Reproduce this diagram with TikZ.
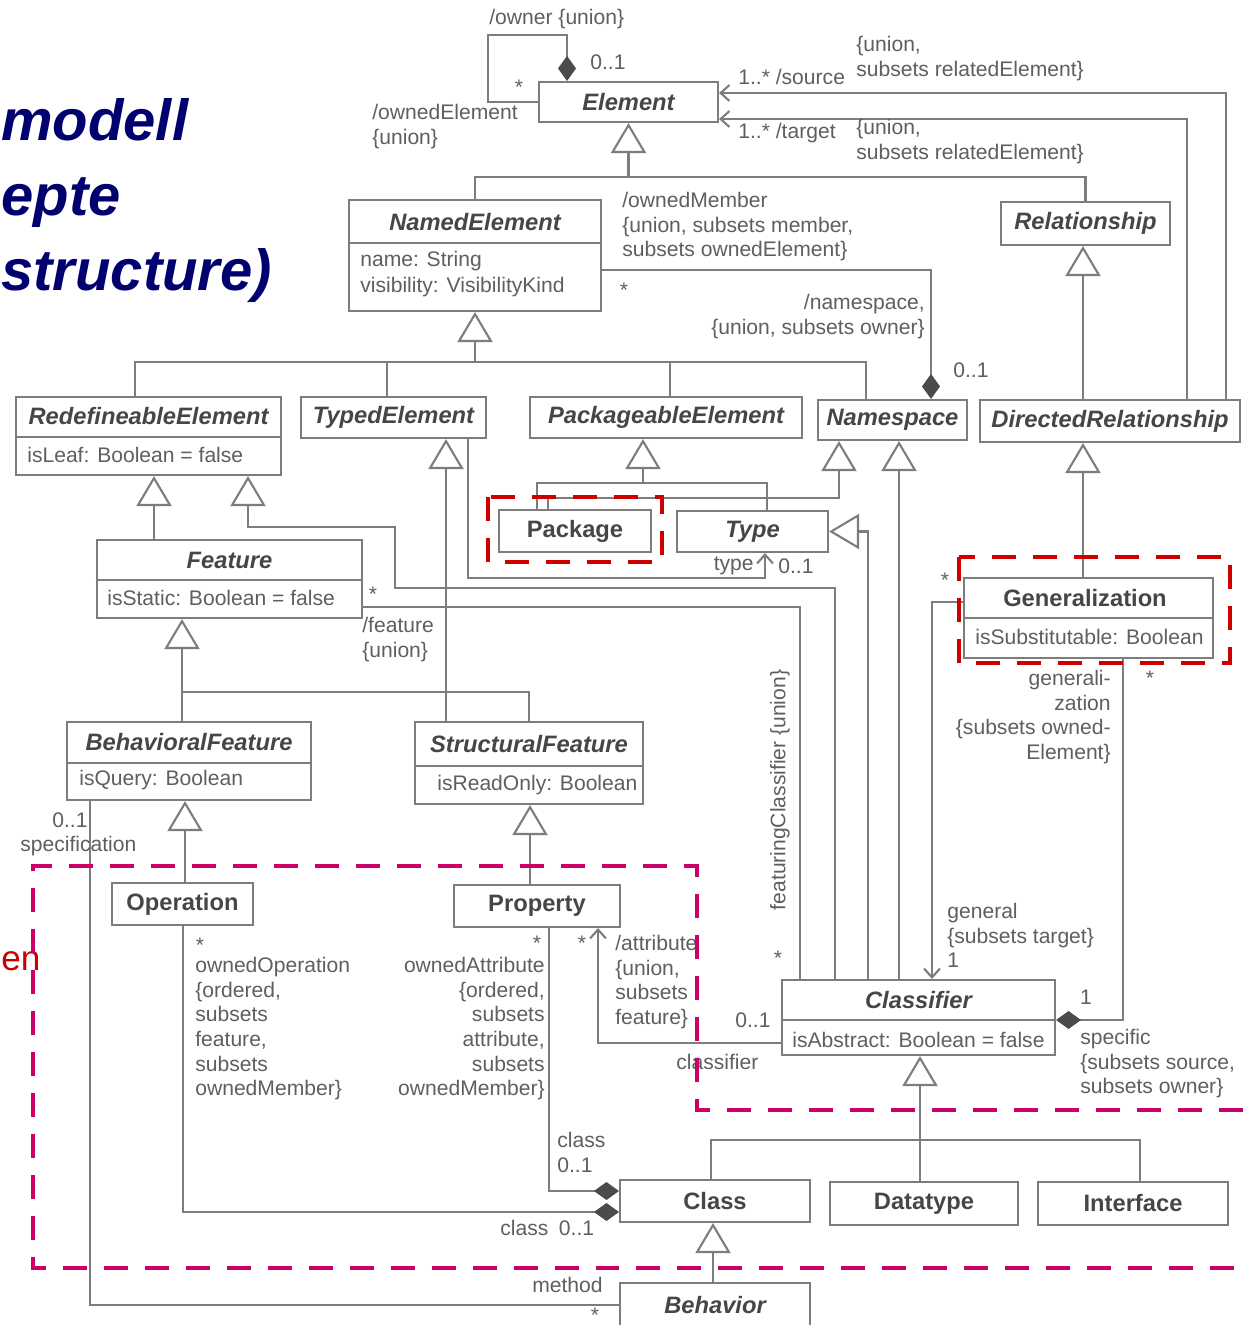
\documentclass[tikz,border=0pt]{standalone}
\usepackage{fontspec}
\setmainfont{Liberation Sans}
\definecolor{umlline}{RGB}{125,125,125}
\definecolor{umltext}{RGB}{95,95,95}
\definecolor{umlname}{RGB}{70,70,70}
\definecolor{umldiam}{RGB}{75,75,75}
\definecolor{titleblue}{RGB}{0,0,110}
\definecolor{markred}{RGB}{204,0,0}
\definecolor{markmag}{RGB}{204,0,102}
\usetikzlibrary{arrows.meta}

\begin{document}
\begin{tikzpicture}[x=0.02cm,y=-0.02cm,
  cls/.style={draw=umlline,line width=1.2pt,inner sep=0pt,fill=white},
  cname/.style={font=\fontsize{13.5}{16}\selectfont\bfseries\itshape,text=umlname},
  cnamer/.style={font=\fontsize{13.5}{16}\selectfont\bfseries,text=umlname},
  attr/.style={font=\fontsize{12}{15}\selectfont,text=umltext,inner sep=0pt,align=left},
  lbl/.style={font=\fontsize{12}{14}\selectfont,text=umltext,inner sep=0pt},
  heading/.style={font=\fontsize{33}{40}\selectfont\bfseries\itshape,text=titleblue,inner sep=0pt},
  conn/.style={draw=umlline,line width=1.2pt},
  gen/.style={conn,-{Triangle[open,length=0.6cm,width=0.7cm]}},
  nav/.style={conn,-{Straight Barb[length=5pt,width=9pt]}},
  comp/.style={conn,-{Diamond[length=0.5cm,width=0.36cm,fill=umldiam,color=umldiam]}},
  hilite/.style={line width=2.8pt,dash pattern=on 0.48cm off 0.34cm}
]
  \useasboundingbox (0,0) rectangle (1243,1325);
  \clip (0,0) rectangle (1243,1325);
  \fill[white] (0,0) rectangle (1243,1325);

  \node[heading,anchor=base west] (tModell) at (1,140) {modell};
  \node[heading,anchor=base west] (tEpte) at (1,215) {epte};
  \node[heading,anchor=base west] (tStructure) at (1,290) {structure)};
  \node[font=\fontsize{20}{24}\selectfont,text=markred,anchor=base west,inner sep=0pt] (tEn) at (1,970) {en};

  \node[cls,cname,minimum width=3.58cm,minimum height=0.8cm] (Element) at (628.5,102) {Element};
  \node[cls,minimum width=5.04cm,minimum height=2.22cm] (NamedElement) at (475,255.5) {};
  \node[cname] (NamedElementN) at (475,222) {NamedElement};
  \node[attr,anchor=north west] (NamedElementA) at (360,251) {name: String\\visibility: VisibilityKind};
  \node[cls,cname,minimum width=3.38cm,minimum height=0.86cm] (Relationship) at (1085.5,223.5) {Relationship};

  \node[cls,minimum width=5.3cm,minimum height=1.56cm] (RedefineableElement) at (148.5,436) {};
  \node[cname] (RedefineableElementN) at (148.5,416) {RedefineableElement};
  \node[attr,anchor=west] (RedefineableElementA) at (27,455) {isLeaf: Boolean = false};
  \node[cls,cname,minimum width=3.7cm,minimum height=0.82cm] (TypedElement) at (393.5,417.5) {TypedElement};
  \node[cls,cname,minimum width=5.44cm,minimum height=0.82cm] (PackageableElement) at (666,417.5) {PackageableElement};
  \node[cls,cname,minimum width=2.98cm,minimum height=0.8cm] (Namespace) at (892.5,420) {Namespace};
  \node[cls,cname,minimum width=5.2cm,minimum height=0.84cm] (DirectedRelationship) at (1110,421) {DirectedRelationship};

  \node[cls,cnamer,minimum width=3.04cm,minimum height=0.84cm] (Package) at (575,531) {Package};
  \node[cls,cname,minimum width=3.02cm,minimum height=0.82cm] (Type) at (752.5,531.5) {Type};

  \node[cls,minimum width=5.3cm,minimum height=1.56cm] (Feature) at (229.5,579) {};
  \node[cname] (FeatureN) at (229.5,560) {Feature};
  \node[attr,anchor=west] (FeatureA) at (107,598) {isStatic: Boolean = false};

  \node[cls,minimum width=4.98cm,minimum height=1.6cm] (Generalization) at (1088.5,618) {};
  \node[cnamer] (GeneralizationN) at (1085,598) {Generalization};
  \node[attr,anchor=west] (GeneralizationA) at (975,637) {isSubstitutable: Boolean};

  \node[cls,minimum width=4.88cm,minimum height=1.56cm] (BehavioralFeature) at (189,761) {};
  \node[cname] (BehavioralFeatureN) at (189,742) {BehavioralFeature};
  \node[attr,anchor=west] (BehavioralFeatureA) at (79,780) {isQuery: Boolean};

  \node[cls,minimum width=4.56cm,minimum height=1.64cm] (StructuralFeature) at (529,763) {};
  \node[cname] (StructuralFeatureN) at (529,744) {StructuralFeature};
  \node[attr,anchor=west] (StructuralFeatureA) at (437,785) {isReadOnly: Boolean};

  \node[cls,cnamer,minimum width=2.82cm,minimum height=0.84cm] (Operation) at (182.5,904) {Operation};
  \node[cls,cnamer,minimum width=3.32cm,minimum height=0.84cm] (Property) at (537,906) {Property};

  \node[cls,minimum width=5.46cm,minimum height=1.5cm] (Classifier) at (918.5,1017.5) {};
  \node[cname] (ClassifierN) at (918.5,1000) {Classifier};
  \node[attr,anchor=west] (ClassifierA) at (792,1040) {isAbstract: Boolean = false};

  \node[cls,cnamer,minimum width=3.8cm,minimum height=0.84cm] (Class) at (715,1201) {Class};
  \node[cls,cnamer,minimum width=3.76cm,minimum height=0.86cm] (Datatype) at (924,1203.5) {Datatype};
  \node[cls,cnamer,minimum width=3.8cm,minimum height=0.86cm] (Interface) at (1133,1203.5) {Interface};
  \node[cls,minimum width=3.8cm,minimum height=1.12cm] (Behavior) at (715,1311) {};
  \node[cname] (BehaviorN) at (715,1305) {Behavior};

  \draw[conn] (NamedElement.west |- 0,243) -- (NamedElement.east |- 0,243);
  \draw[conn] (RedefineableElement.west |- 0,437) -- (RedefineableElement.east |- 0,437);
  \draw[conn] (Feature.west |- 0,580) -- (Feature.east |- 0,580);
  \draw[conn] (Generalization.west |- 0,618) -- (Generalization.east |- 0,618);
  \draw[conn] (BehavioralFeature.west |- 0,763) -- (BehavioralFeature.east |- 0,763);
  \draw[conn] (StructuralFeature.west |- 0,766) -- (StructuralFeature.east |- 0,766);
  \draw[conn] (Classifier.west |- 0,1020) -- (Classifier.east |- 0,1020);

  \draw[comp] (Element.west) -- (488,102) -- (488,35) -- (567,35) -- (Element.north -| 567,0);
  \draw[nav] (DirectedRelationship.north -| 1226,0) |- (Element.east |- 0,93);
  \draw[nav] (DirectedRelationship.north -| 1187,0) |- (Element.east |- 0,119);
  \draw[conn] (NamedElement.north) |- (Relationship.north |- 0,177) -- (Relationship.north);
  \draw[gen] (Element.south |- 0,177) -- (Element.south);

  \coordinate (busN) at (NamedElement.south |- 0,362);
  \draw[conn] (RedefineableElement.north -| 135,0) |- (busN) -| (Namespace.north -| 866,0);
  \draw[conn] (busN -| 387,0) -- (TypedElement.north -| 387,0);
  \draw[conn] (busN -| 670,0) -- (PackageableElement.north -| 670,0);
  \draw[gen] (busN) -- (NamedElement.south);
  \draw[comp] (NamedElement.east |- 0,270) -| (Namespace.north -| 931,0);
  \draw[gen] (DirectedRelationship.north -| 1083,0) -- (Relationship.south -| 1083,0);

  \draw[gen] (Feature.north -| 154,0) -- (RedefineableElement.south -| 154,0);
  \draw[gen] (Classifier.north -| 835,0) |- (395,588) |- (248,527) -- (RedefineableElement.south -| 248,0);
  \draw[nav] (TypedElement.south -| 468,0) |- (765,578) -- (Type.south -| 765,0);
  \draw[gen] (StructuralFeature.north -| 446,0) -- (TypedElement.south -| 446,0);

  \coordinate (busP) at (643,483);
  \draw[conn] (Package.north -| 537,0) |- (busP) -| (Type.north -| 767,0);
  \draw[gen] (busP) -- (PackageableElement.south -| 643,0);
  \draw[gen] (Package.north -| 548,0) |- (839,498) -- (Namespace.south -| 839,0);
  \draw[gen] (Classifier.north -| 868,0) |- (Type.east);
  \draw[gen] (Classifier.north -| 899,0) -- (Namespace.south -| 899,0);

  \draw[gen] (Generalization.north -| 1083,0) -- (DirectedRelationship.south -| 1083,0);
  \draw[nav] (Generalization.west |- 0,602) -| (Classifier.north -| 932,0);
  \draw[comp] (Generalization.south -| 1123,0) |- (Classifier.east |- 0,1020);

  \draw[conn] (Feature.east |- 0,607) -| (Classifier.north -| 800,0);
  \coordinate (busF) at (182,692);
  \draw[conn] (BehavioralFeature.north -| 182,0) |- (StructuralFeature.north |- busF) -- (StructuralFeature.north);
  \draw[gen] (busF) -- (Feature.south -| 182,0);
  \draw[gen] (Operation.north -| 185,0) -- (BehavioralFeature.south -| 185,0);
  \draw[gen] (Property.north -| 530,0) -- (StructuralFeature.south -| 530,0);
  \draw[conn] (BehavioralFeature.south -| 90,0) |- (Behavior.west |- 0,1305);
  \draw[comp] (Operation.south -| 183,0) |- (Class.west |- 0,1212);
  \draw[comp] (Property.south -| 549,0) |- (Class.west |- 0,1191);
  \draw[nav] (Classifier.west |- 0,1043) -| (Property.south -| 598,0);

  \coordinate (busC) at (920,1140);
  \draw[conn] (Class.north -| 711,0) |- (busC) -| (Interface.north -| 1140,0);
  \draw[conn] (Datatype.north -| 920,0) -- (busC);
  \draw[gen] (busC) -- (Classifier.south -| 920,0);
  \draw[gen] (Behavior.north -| 713,0) -- (Class.south -| 713,0);

  \node[lbl,anchor=west] (lOwner) at (489,19) {/owner \{union\}};
  \node[lbl,anchor=west] (lOwnerM) at (590,62) {0..1};
  \node[lbl] (lOwnedM) at (519,87) {*};
  \node[lbl,anchor=north west,align=left] (lOwnedEl) at (372,104) {/ownedElement\\\{union\}};
  \node[lbl,anchor=west] (lSource) at (738,77) {1..* /source};
  \node[lbl,anchor=north west,align=left] (lSourceC) at (856,36) {\{union,\\subsets relatedElement\}};
  \node[lbl,anchor=west] (lTarget) at (738,133) {1..* /target};
  \node[lbl,anchor=north west,align=left] (lTargetC) at (856,119) {\{union,\\subsets relatedElement\}};
  \node[lbl,anchor=north west,align=left] (lOwnedMem) at (622,192) {/ownedMember\\\{union, subsets member,\\subsets ownedElement\}};
  \node[lbl] (lOwnedMemM) at (624,290) {*};
  \node[lbl,anchor=north east,align=right] (lNamespace) at (925,294) {/namespace,\\\{union, subsets owner\}};
  \node[lbl,anchor=west] (lNamespaceM) at (953,370) {0..1};
  \node[lbl,anchor=east] (lType) at (754,566) {type};
  \node[lbl,anchor=west] (lTypeM) at (778,566) {0..1};
  \node[lbl] (lFeatureM) at (373,594) {*};
  \node[lbl,anchor=north west,align=left] (lFeature) at (362,617) {/feature\\\{union\}};
  \node[lbl,rotate=90] (lFeaturing) at (780,790) {featuringClassifier \{union\}};
  \node[lbl] (lFeaturingM) at (778,958) {*};
  \node[lbl] (lGenM) at (945,580) {*};
  \node[lbl,anchor=north east,align=right] (lGeneralization) at (1111,670) {generali-\\zation\\\{subsets owned-\\Element\}};
  \node[lbl] (lGeneralizationM) at (1150,678) {*};
  \node[lbl,anchor=north west,align=left] (lGeneral) at (947,903) {general\\\{subsets target\}\\1};
  \node[lbl] (lSpecificM) at (1086,997) {1};
  \node[lbl,anchor=north west,align=left] (lSpecific) at (1080,1029) {specific\\\{subsets source,\\subsets owner\}};
  \node[lbl,anchor=west] (lSpecM) at (52,820) {0..1};
  \node[lbl,anchor=west] (lSpec) at (20,846) {specification};
  \node[lbl] (lOpM) at (200,945) {*};
  \node[lbl,anchor=north west,align=left] (lOwnedOp) at (195,957) {ownedOperation\\\{ordered,\\subsets\\feature,\\subsets\\ownedMember\}};
  \node[lbl] (lAttrM) at (537,943) {*};
  \node[lbl,anchor=north east,align=right] (lOwnedAttr) at (545,957) {ownedAttribute\\\{ordered,\\subsets\\attribute,\\subsets\\ownedMember\}};
  \node[lbl] (lAttrNavM) at (582,943) {*};
  \node[lbl,anchor=north west,align=left] (lAttribute) at (615,935) {/attribute\\\{union,\\subsets\\feature\}};
  \node[lbl,anchor=west] (lClassifierM) at (735,1020) {0..1};
  \node[lbl,anchor=west] (lClassifier) at (676,1062) {classifier};
  \node[lbl,anchor=north west,align=left] (lClassA) at (557,1132) {class\\0..1};
  \node[lbl,anchor=west] (lClassO) at (500,1228) {class\enspace 0..1};
  \node[lbl,anchor=east] (lMethod) at (603,1285) {method};
  \node[lbl] (lMethodM) at (595,1315) {*};

  \draw[hilite,draw=markred] (488,497) rectangle (662,562);
  \draw[hilite,draw=markred] (959,557) rectangle (1230,663);
  \draw[hilite,draw=markmag] (1243,1110) -- (697,1110) -- (697,866) -- (33,866) -- (33,1268) -- (1243,1268);
\end{tikzpicture}
\end{document}
